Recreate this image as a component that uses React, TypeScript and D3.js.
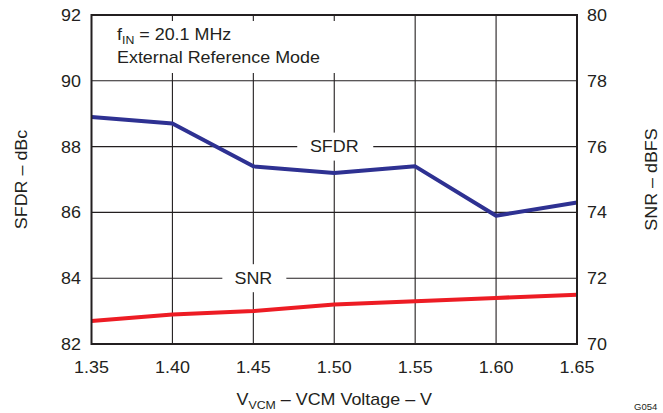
import React from "react";
import * as d3 from "d3";

const vcm = [1.35, 1.4, 1.45, 1.5, 1.55, 1.6, 1.65];
const sfdr = [88.9, 88.7, 87.4, 87.2, 87.4, 85.9, 86.3];
const snr = [70.7, 70.9, 71.0, 71.2, 71.3, 71.4, 71.5];
const xTicks = [1.35, 1.4, 1.45, 1.5, 1.55, 1.6, 1.65];
const leftTicks = [82, 84, 86, 88, 90, 92];
const rightTicks = [70, 72, 74, 76, 78, 80];

const W = 663, H = 413;
const L = 91.5, R = 577, T = 15, B = 344;
const FONT = "'Liberation Sans', Arial, sans-serif";

export default function App() {
  const x = d3.scaleLinear().domain([1.35, 1.65]).range([L, R]);
  const yl = d3.scaleLinear().domain([82, 92]).range([B, T]);
  const yr = d3.scaleLinear().domain([70, 80]).range([B, T]);
  const lineL = d3.line<number>().x((_, i) => x(vcm[i])).y((d) => yl(d));
  const lineR = d3.line<number>().x((_, i) => x(vcm[i])).y((d) => yr(d));
  const fs = 16;
  const sx = 1.12;
  const T2 = (props: any) => {
    const { x: tx, y: ty, children, anchor, ...rest } = props;
    return (
      <text transform={`translate(${tx},${ty}) scale(${sx},1)`} textAnchor={anchor || "start"} {...rest}>
        {children}
      </text>
    );
  };
  return (
    <svg width={W} height={H} style={{ position: "absolute", left: 0, top: 0, background: "#fff" }} fontFamily={FONT} fill="#231f20">
      <rect x={0} y={0} width={W} height={H} fill="#fff" />
      {/* grid */}
      {xTicks.slice(1, -1).map((t) => (
        <line key={"gx" + t} x1={x(t)} x2={x(t)} y1={T} y2={B} stroke="#231f20" strokeWidth={1.1} />
      ))}
      {leftTicks.slice(1, -1).map((t) => (
        <line key={"gy" + t} x1={L} x2={R} y1={yl(t)} y2={yl(t)} stroke="#231f20" strokeWidth={1.1} />
      ))}
      {/* white boxes behind labels */}
      <rect x={101} y={21} width={240} height={52} fill="#fff" />
      <rect x={x(1.5) - 37} y={yl(88) - 14} width={76} height={28} fill="#fff" />
      <rect x={x(1.45) - 31} y={yl(84) - 14} width={64} height={28} fill="#fff" />
      {/* lines */}
      <path d={lineL(sfdr) || ""} fill="none" stroke="#2e3192" strokeWidth={4} strokeLinejoin="round" />
      <path d={lineR(snr) || ""} fill="none" stroke="#ed1c24" strokeWidth={4} strokeLinejoin="round" />
      {/* frame */}
      <rect x={L} y={T} width={R - L} height={B - T} fill="none" stroke="#231f20" strokeWidth={2} />
      {/* tick labels */}
      {leftTicks.map((t) => (
        <T2 key={"lt" + t} x={81} y={yl(t) + 6} anchor="end" fontSize={fs}>{t}</T2>
      ))}
      {rightTicks.map((t) => (
        <T2 key={"rt" + t} x={587} y={yr(t) + 6} anchor="start" fontSize={fs}>{t}</T2>
      ))}
      {xTicks.map((t) => (
        <T2 key={"xt" + t} x={x(t)} y={373} anchor="middle" fontSize={fs}>{t.toFixed(2)}</T2>
      ))}
      {/* annotations */}
      <T2 x={117} y={40} fontSize={fs}>
        f<tspan fontSize={11} dy={4}>IN</tspan><tspan dy={-4}> = 20.1 MHz</tspan>
      </T2>
      <T2 x={117} y={63} fontSize={fs}>External Reference Mode</T2>
      <T2 x={x(1.5)} y={yl(88) + 5} anchor="middle" fontSize={fs}>SFDR</T2>
      <T2 x={x(1.45)} y={yl(84) + 6} anchor="middle" fontSize={fs}>SNR</T2>
      {/* axis titles */}
      <text transform={`translate(27,${(T + B) / 2}) rotate(-90) scale(${sx},1)`} textAnchor="middle" fontSize={fs}>SFDR – dBc</text>
      <text transform={`translate(657,${(T + B) / 2}) rotate(-90) scale(${sx},1)`} textAnchor="middle" fontSize={fs}>SNR – dBFS</text>
      <T2 x={(L + R) / 2} y={405} anchor="middle" fontSize={fs}>
        V<tspan fontSize={11} dy={4}>VCM</tspan><tspan dy={-4}> – VCM Voltage – V</tspan>
      </T2>
      <text x={634} y={410} fontSize={9.5}>G054</text>
    </svg>
  );
}
